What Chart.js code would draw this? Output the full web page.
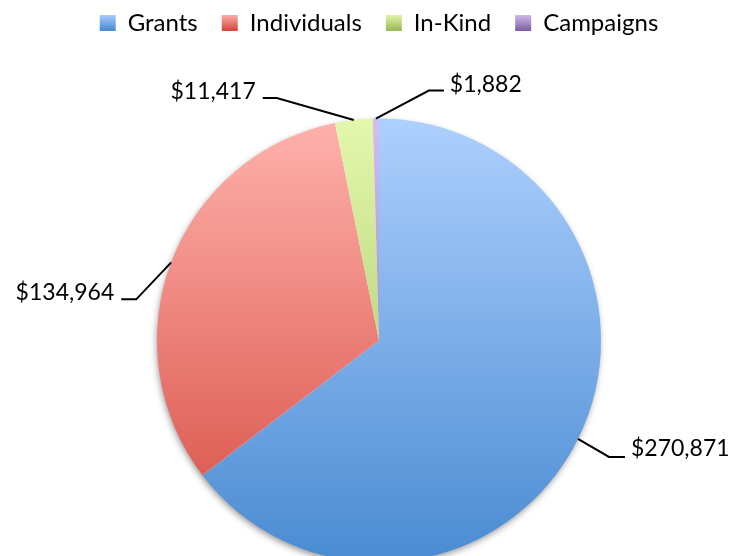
<!DOCTYPE html>
<html>
<head>
<meta charset="utf-8">
<script src="https://cdn.jsdelivr.net/npm/chart.js@4"></script>
<style>
  html, body { margin: 0; padding: 0; background: #fff; overflow: hidden; height: 556px; }
  #chart-box { width: 730px; height: 636px; position: relative; }
</style>
</head>
<body>
<div id="chart-box"><canvas id="funding-chart"></canvas></div>
<script>
// data
const categories = ['Grants', 'Individuals', 'In-Kind', 'Campaigns'];
const amounts = [270871, 134964, 11417, 1882];

// gradient colours, light at the top of the pie, dark at the bottom
const topColors = ['#aed0fe', '#ffb2ad', '#e4f8ad', '#d2bff0'];
const bottomColors = ['#4a8bd2', '#d64b40', '#9bbb59', '#8064a2'];

const PIE_RADIUS = 222;
const FONT = 'Lato';

// leader lines: offset of the elbow from the edge point, then horizontal run
const callouts = [
	{ dx: 31, dy: 18, run: 16, ty: -8 },
	{ dx: -35, dy: 37, run: -15, ty: -7 },
	{ dx: -77, dy: -22, run: -14, ty: -6 },
	{ dx: 53, dy: -28, run: 15, ty: -6 }
];

function money(v) {
	return '$' + v.toLocaleString('en-US');
}

function sliceFill(context) {
	const i = context.dataIndex;
	const area = context.chart.chartArea;
	if (!area) return bottomColors[i];
	const cy = (area.top + area.bottom) / 2;
	const g = context.chart.ctx.createLinearGradient(0, cy - PIE_RADIUS, 0, cy + PIE_RADIUS);
	g.addColorStop(0, topColors[i]);
	g.addColorStop(1, bottomColors[i]);
	return g;
}

// soft drop shadow under the whole pie
const pieShadow = {
	id: 'pieShadow',
	beforeDatasetsDraw(chart) {
		const arc = chart.getDatasetMeta(0).data[0];
		if (!arc) return;
		const ctx = chart.ctx;
		ctx.save();
		ctx.shadowColor = 'rgba(0,0,0,0.45)';
		ctx.shadowBlur = 7;
		ctx.shadowOffsetX = -1;
		ctx.shadowOffsetY = 3;
		ctx.fillStyle = '#fff';
		ctx.beginPath();
		ctx.arc(arc.x, arc.y, arc.outerRadius - 1, 0, Math.PI * 2);
		ctx.fill();
		ctx.restore();
	}
};

// value labels with leader lines
const valueCallouts = {
	id: 'valueCallouts',
	afterDatasetsDraw(chart) {
		const ctx = chart.ctx;
		const meta = chart.getDatasetMeta(0);
		ctx.save();
		ctx.strokeStyle = '#000';
		ctx.lineWidth = 2;
		ctx.fillStyle = '#000';
		ctx.font = '23px ' + FONT;
		ctx.textBaseline = 'middle';
		meta.data.forEach(function (arc, i) {
			const p = arc.getProps(['x', 'y', 'startAngle', 'endAngle', 'outerRadius'], true);
			const mid = (p.startAngle + p.endAngle) / 2;
			const ex = p.x + Math.cos(mid) * p.outerRadius;
			const ey = p.y + Math.sin(mid) * p.outerRadius;
			const c = callouts[i];
			const bx = ex + c.dx, by = ey + c.dy;
			const hx = bx + c.run;
			ctx.beginPath();
			ctx.moveTo(ex, ey);
			ctx.lineTo(bx, by);
			ctx.lineTo(hx, by);
			ctx.stroke();
			ctx.textAlign = c.run > 0 ? 'left' : 'right';
			ctx.fillText(money(amounts[i]), hx + (c.run > 0 ? 6 : -7), by + c.ty);
		});
		ctx.restore();
	}
};

const legendTop = 14, legendBottom = 30;

const chartBox = document.getElementById('funding-chart');
const fundingChart = new Chart(chartBox, {
	type: 'pie',
	data: {
		labels: categories,
		datasets: [{
			data: amounts,
			backgroundColor: sliceFill,
			borderWidth: 0,
			radius: PIE_RADIUS
		}]
	},
	options: {
		responsive: true,
		maintainAspectRatio: false,
		animation: false,
		layout: {
			padding: { top: -13, left: 28, right: 0, bottom: 0 }
		},
		plugins: {
			tooltip: { enabled: false },
			legend: {
				display: true,
				position: 'top',
				labels: {
					boxWidth: 16,
					boxHeight: 16,
					padding: 24,
					color: '#000',
					font: { family: FONT, size: 24 },
					generateLabels(chart) {
						const ctx = chart.ctx;
						return categories.map(function (name, i) {
							const g = ctx.createLinearGradient(0, legendTop, 0, legendBottom);
							g.addColorStop(0, topColors[i]);
							g.addColorStop(1, bottomColors[i]);
							return {
								text: name,
								fillStyle: g,
								strokeStyle: 'rgba(0,0,0,0)',
								lineWidth: 0,
								fontColor: '#000',
								hidden: false,
								index: i
							};
						});
					}
				}
			}
		}
	},
	plugins: [pieShadow, valueCallouts]
});
</script>
</body>
</html>
